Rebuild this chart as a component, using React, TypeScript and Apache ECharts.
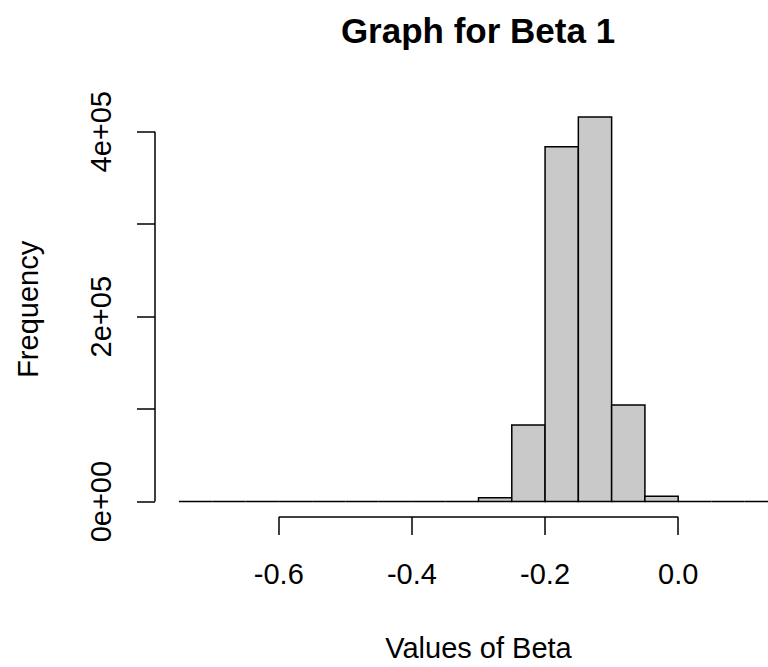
import React, { useEffect, useRef } from "react";
import * as echarts from "echarts";

// Histogram bin edges and counts for the sampled beta values
const binEdges = [
  -0.75, -0.7, -0.65, -0.6, -0.55, -0.5, -0.45, -0.4, -0.35, -0.3,
  -0.25, -0.2, -0.15, -0.1, -0.05, 0.0, 0.05, 0.1, 0.15,
];
const binCounts = [
  0, 0, 0, 0, 0, 0, 0, 0, 0,
  4100, 82900, 383700, 415900, 104400, 5900,
  0, 0, 0,
];

const xTickValues = [-0.6, -0.4, -0.2, 0.0];
const yTickValues = [0, 100000, 200000, 300000, 400000];
const yLabelValues = [0, 200000, 400000];

const titleText = "Graph for Beta 1";
const xAxisTitle = "Values of Beta";
const yAxisTitle = "Frequency";

const FONT = "'Liberation Sans', Arial, Helvetica, sans-serif";

// 0e+00 / 2e+05 style labels
function sciLabel(v: number): string {
  if (v === 0) return "0e+00";
  const exp = Math.floor(Math.log10(Math.abs(v)));
  const mant = Math.round((v / Math.pow(10, exp)) * 100) / 100;
  const sign = exp < 0 ? "-" : "+";
  const e = String(Math.abs(exp)).padStart(2, "0");
  return `${mant}e${sign}${e}`;
}

export default function App() {
  const ref = useRef<HTMLDivElement>(null);

  useEffect(() => {
    if (!ref.current) return;
    const chart = echarts.init(ref.current, null, { renderer: "svg" });

    // axis ranges padded by 4% on each side
    const xLo = binEdges[0];
    const xHi = binEdges[binEdges.length - 1];
    const xPad = (xHi - xLo) * 0.04;
    const xMin = xLo - xPad;
    const xMax = xHi + xPad;
    const yTop = Math.max(...binCounts);
    const yPad = yTop * 0.04;
    const yMin = -yPad;
    const yMax = yTop + yPad;

    const histData = binCounts.map((c, i) => [binEdges[i], binEdges[i + 1], c]);

    chart.setOption({
      animation: false,
      backgroundColor: "#ffffff",
      textStyle: { fontFamily: FONT, color: "#000" },
      grid: { left: 155, top: 101.7, width: 647, height: 419.3, containLabel: false },
      graphic: [
        {
          type: "text",
          x: 478,
          y: 30,
          style: {
            text: titleText,
            fill: "#000",
            font: `bold 35px ${FONT}`,
            align: "center",
            verticalAlign: "middle",
          },
        },
      ],
      xAxis: {
        type: "value",
        min: xMin,
        max: xMax,
        name: xAxisTitle,
        nameLocation: "middle",
        nameGap: 116,
        nameTextStyle: { fontSize: 29, color: "#000", fontFamily: FONT },
        axisLine: { show: false, onZero: false },
        axisTick: {
          show: true,
          customValues: xTickValues,
          length: 18,
          lineStyle: { color: "#000", width: 1.5 },
        },
        axisLabel: {
          show: true,
          customValues: xTickValues,
          margin: 42,
          fontSize: 29,
          color: "#000",
          fontFamily: FONT,
          formatter: (v: number) => (Math.abs(v) < 1e-9 ? "0.0" : v.toFixed(1)),
        },
        splitLine: { show: false },
      },
      yAxis: {
        type: "value",
        min: yMin,
        max: yMax,
        name: yAxisTitle,
        nameLocation: "middle",
        nameGap: 113,
        nameTextStyle: { fontSize: 29, color: "#000", fontFamily: FONT },
        axisLine: { show: false, onZero: false },
        axisTick: {
          show: true,
          customValues: yTickValues,
          length: 18,
          lineStyle: { color: "#000", width: 1.5 },
        },
        axisLabel: {
          show: true,
          customValues: yLabelValues,
          rotate: 90,
          margin: 40,
          fontSize: 29,
          color: "#000",
          fontFamily: FONT,
          formatter: (v: number) => sciLabel(v),
        },
        splitLine: { show: false },
      },
      series: [
        {
          type: "custom",
          silent: true,
          clip: false,
          data: histData,
          encode: { x: [0, 1], y: 2 },
          renderItem: (params: any, api: any) => {
            const x0 = api.value(0);
            const x1 = api.value(1);
            const c = api.value(2);
            const p0 = api.coord([x0, 0]);
            const p1 = api.coord([x1, c]);
            return {
              type: "rect",
              shape: {
                x: p0[0],
                y: p1[1],
                width: p1[0] - p0[0],
                height: p0[1] - p1[1],
              },
              style: { fill: "#c9c9c9", stroke: "#000", lineWidth: 1.5 },
            };
          },
        },
        // x axis line spanning the first to last tick
        {
          type: "line",
          silent: true,
          clip: false,
          symbol: "none",
          data: [
            [xTickValues[0], yMin],
            [xTickValues[xTickValues.length - 1], yMin],
          ],
          lineStyle: { color: "#000", width: 1.5 },
        },
        // y axis line spanning the first to last tick
        {
          type: "line",
          silent: true,
          clip: false,
          symbol: "none",
          data: [
            [xMin, yTickValues[0]],
            [xMin, yTickValues[yTickValues.length - 1]],
          ],
          lineStyle: { color: "#000", width: 1.5 },
        },
      ],
    });

    return () => chart.dispose();
  }, []);

  return (
    <div
      style={{
        position: "fixed",
        left: 0,
        top: 0,
        width: 768,
        height: 667,
        overflow: "hidden",
        background: "#fff",
      }}
    >
      <div ref={ref} style={{ width: 860, height: 667 }} />
    </div>
  );
}
